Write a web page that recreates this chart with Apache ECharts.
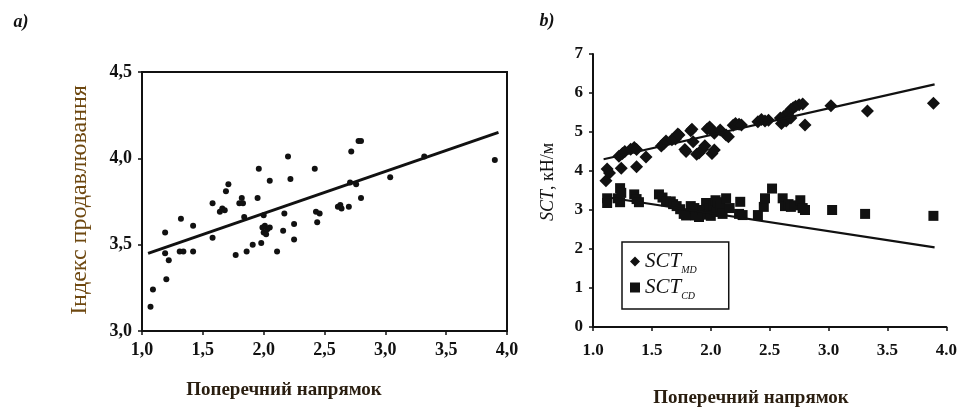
<!DOCTYPE html>
<html><head><meta charset="utf-8">
<script src="https://cdn.jsdelivr.net/npm/echarts@6/dist/echarts.min.js"></script>
<style>html,body{margin:0;padding:0;background:#fff}#c{width:960px;height:410px}</style>
</head><body><div id="c"></div>
<script>
// Panel a) : Індекс продавлювання vs Поперечний напрямок
const pointsA = [[1.07,3.14],[1.09,3.24],[1.19,3.57],[1.19,3.45],[1.22,3.41],[1.20,3.30],[1.32,3.65],[1.31,3.46],[1.34,3.46],[1.42,3.61],[1.42,3.46],[1.58,3.74],[1.58,3.54],[1.64,3.69],[1.66,3.71],[1.68,3.70],[1.69,3.81],[1.71,3.85],[1.77,3.44],[1.80,3.74],[1.82,3.77],[1.83,3.74],[1.84,3.66],[1.86,3.46],[1.91,3.50],[1.95,3.77],[1.96,3.94],[1.98,3.51],[2.00,3.57],[2.01,3.61],[2.03,3.59],[2.05,3.60],[1.99,3.60],[2.02,3.56],[2.00,3.67],[2.05,3.87],[2.11,3.46],[2.16,3.58],[2.17,3.68],[2.20,4.01],[2.22,3.88],[2.25,3.62],[2.25,3.53],[2.42,3.94],[2.43,3.69],[2.46,3.68],[2.44,3.63],[2.61,3.72],[2.63,3.73],[2.64,3.71],[2.70,3.72],[2.71,3.86],[2.72,4.04],[2.78,4.10],[2.80,4.10],[2.76,3.85],[2.80,3.77],[3.04,3.89],[3.32,4.01],[3.90,3.99]];
const fitA = [[1.05,3.45],[3.93,4.15]];
const yTicksA = [3.0, 3.5, 4.0, 4.5];
const xTicks = [1.0, 1.5, 2.0, 2.5, 3.0, 3.5, 4.0];

// Panel b) : SCT, кН/м
const pointsMD = [[1.11,3.75],[1.12,4.05],[1.14,3.95],[1.22,4.38],[1.24,4.07],[1.25,4.45],[1.27,4.50],[1.32,4.56],[1.35,4.60],[1.37,4.55],[1.37,4.11],[1.45,4.36],[1.58,4.64],[1.60,4.70],[1.62,4.77],[1.67,4.80],[1.70,4.82],[1.72,4.95],[1.73,4.92],[1.78,4.55],[1.79,4.50],[1.83,5.03],[1.84,5.07],[1.85,4.75],[1.88,4.43],[1.90,4.46],[1.93,4.56],[1.95,4.65],[1.97,5.08],[1.99,5.13],[2.01,5.05],[2.01,4.45],[2.03,4.97],[2.03,4.54],[2.08,5.05],[2.13,4.92],[2.15,4.88],[2.19,5.17],[2.21,5.22],[2.24,5.20],[2.26,5.18],[2.40,5.26],[2.43,5.32],[2.46,5.28],[2.49,5.30],[2.59,5.36],[2.60,5.22],[2.62,5.40],[2.64,5.28],[2.66,5.50],[2.68,5.58],[2.70,5.62],[2.72,5.66],[2.75,5.70],[2.78,5.72],[2.68,5.36],[2.80,5.18],[3.02,5.67],[3.33,5.54],[3.89,5.74]];
const pointsCD = [[1.12,3.30],[1.12,3.18],[1.21,3.30],[1.23,3.20],[1.23,3.56],[1.24,3.44],[1.35,3.40],[1.37,3.28],[1.39,3.20],[1.56,3.40],[1.59,3.32],[1.62,3.22],[1.66,3.22],[1.68,3.15],[1.71,3.10],[1.74,3.02],[1.77,2.90],[1.79,2.86],[1.83,3.10],[1.86,3.05],[1.87,2.86],[1.90,2.82],[1.93,3.00],[1.96,3.18],[1.97,2.88],[1.99,3.05],[2.00,2.85],[2.02,3.12],[2.04,3.25],[2.05,2.95],[2.06,3.20],[2.08,3.08],[2.10,2.90],[2.13,3.30],[2.16,3.05],[2.25,3.21],[2.24,2.90],[2.27,2.87],[2.40,2.87],[2.45,3.08],[2.46,3.30],[2.52,3.55],[2.61,3.30],[2.63,3.10],[2.66,3.15],[2.68,3.08],[2.71,3.12],[2.76,3.25],[2.78,3.05],[2.80,3.00],[3.03,3.00],[3.31,2.90],[3.89,2.85]];
const fitMD = [[1.09,4.30],[3.90,6.22]];
const fitCD = [[1.09,3.34],[3.90,2.04]];
const yTicksB = [0, 1, 2, 3, 4, 5, 6, 7];

const SERIF = '"Liberation Serif", "DejaVu Serif", serif';
const INK = '#111';

const chart = echarts.init(document.getElementById('c'), null, {renderer: 'canvas'});

function axisCommon(extra) {
  return Object.assign({
    axisLine: {show: true, onZero: false, lineStyle: {color: INK, width: 2}},
    axisTick: {show: true, inside: false, length: 4, lineStyle: {color: INK, width: 1.5}},
    splitLine: {show: false},
  }, extra);
}

chart.setOption({
  animation: false,
  backgroundColor: '#fff',
  grid: [
    {left: 142, right: 453, top: 72, bottom: 79, show: true, borderColor: INK, borderWidth: 2, backgroundColor: 'transparent'},
    {left: 593, right: 10, top: 54, bottom: 83}
  ],
  xAxis: [
    axisCommon({type: 'value', gridIndex: 0, min: xTicks[0], max: xTicks[xTicks.length-1], interval: 0.5,
      axisLabel: {margin: 10, color: INK, fontFamily: SERIF, fontWeight: 'bold', fontSize: 18,
        formatter: v => v.toFixed(1).replace('.', ',')}}),
    axisCommon({type: 'value', gridIndex: 1, min: xTicks[0], max: xTicks[xTicks.length-1], interval: 0.5,
      axisLabel: {margin: 15, color: INK, fontFamily: SERIF, fontWeight: 'bold', fontSize: 17,
        formatter: v => v.toFixed(1)}})
  ],
  yAxis: [
    axisCommon({type: 'value', gridIndex: 0, min: yTicksA[0], max: yTicksA[yTicksA.length-1], interval: 0.5,
      axisLabel: {margin: 10, color: INK, fontFamily: SERIF, fontWeight: 'bold', fontSize: 18,
        formatter: v => v.toFixed(1).replace('.', ',')}}),
    axisCommon({type: 'value', gridIndex: 1, min: yTicksB[0], max: yTicksB[yTicksB.length-1], interval: 1,
      axisLabel: {margin: 10, color: INK, fontFamily: SERIF, fontWeight: 'bold', fontSize: 17}})
  ],
  legend: {
    show: true,
    orient: 'vertical',
    left: 622, top: 242,
    padding: [9, 32, 8, 8],
    itemGap: 2,
    itemWidth: 10, itemHeight: 10,
    borderColor: INK, borderWidth: 1.5,
    data: [{name: 'SCT_MD', icon: 'diamond'}, {name: 'SCT_CD', icon: 'rect'}],
    formatter: name => '{m|SCT}{s|' + name.split('_')[1] + '}',
    textStyle: {
      color: INK,
      rich: {
        m: {fontFamily: SERIF, fontStyle: 'italic', fontSize: 21, lineHeight: 27, verticalAlign: 'middle', color: INK},
        s: {fontFamily: SERIF, fontStyle: 'italic', fontSize: 10, lineHeight: 10, verticalAlign: 'bottom', color: INK}
      }
    }
  },
  series: [
    {type: 'scatter', xAxisIndex: 0, yAxisIndex: 0, data: pointsA, symbol: 'circle', symbolSize: 6,
      itemStyle: {color: INK, opacity: 1}, silent: true},
    {type: 'line', xAxisIndex: 0, yAxisIndex: 0, data: fitA, showSymbol: false, symbol: 'none',
      lineStyle: {color: INK, width: 3}, silent: true},
    {name: 'SCT_MD', type: 'scatter', xAxisIndex: 1, yAxisIndex: 1, data: pointsMD, symbol: 'diamond', symbolSize: 13,
      itemStyle: {color: INK, opacity: 1}, silent: true},
    {name: 'SCT_CD', type: 'scatter', xAxisIndex: 1, yAxisIndex: 1, data: pointsCD, symbol: 'rect', symbolSize: 10,
      itemStyle: {color: INK, opacity: 1}, silent: true},
    {type: 'line', xAxisIndex: 1, yAxisIndex: 1, data: fitMD, showSymbol: false, symbol: 'none',
      lineStyle: {color: INK, width: 2.2}, silent: true},
    {type: 'line', xAxisIndex: 1, yAxisIndex: 1, data: fitCD, showSymbol: false, symbol: 'none',
      lineStyle: {color: INK, width: 2.2}, silent: true}
  ],
  graphic: [
    {type: 'text', x: 21, y: 22, style: {text: 'a)', fontFamily: SERIF, fontSize: 18, fontWeight: 'bold', fontStyle: 'italic', fill: INK, align: 'center', verticalAlign: 'middle'}},
    {type: 'text', x: 547, y: 21, style: {text: 'b)', fontFamily: SERIF, fontSize: 18, fontWeight: 'bold', fontStyle: 'italic', fill: INK, align: 'center', verticalAlign: 'middle'}},
    {type: 'text', x: 80, y: 200, rotation: Math.PI / 2, style: {text: 'Індекс продавлювання', fontFamily: SERIF, fontSize: 24, fill: '#6e4810', align: 'center', verticalAlign: 'middle'}},
    {type: 'text', x: 548, y: 182, rotation: Math.PI / 2, style: {text: '{i|SCT}{n|, кН/м}', align: 'center', verticalAlign: 'middle',
      rich: {i: {fontFamily: SERIF, fontSize: 18, fontStyle: 'italic', fill: INK}, n: {fontFamily: SERIF, fontSize: 18, fill: INK}}}},
    {type: 'text', x: 284, y: 390, style: {text: 'Поперечний напрямок', fontFamily: SERIF, fontSize: 19, fontWeight: 'bold', fill: '#2a1e10', align: 'center', verticalAlign: 'middle'}},
    {type: 'text', x: 751, y: 398, style: {text: 'Поперечний напрямок', fontFamily: SERIF, fontSize: 19, fontWeight: 'bold', fill: '#2a1e10', align: 'center', verticalAlign: 'middle'}}
  ]
});
</script>
</body></html>
